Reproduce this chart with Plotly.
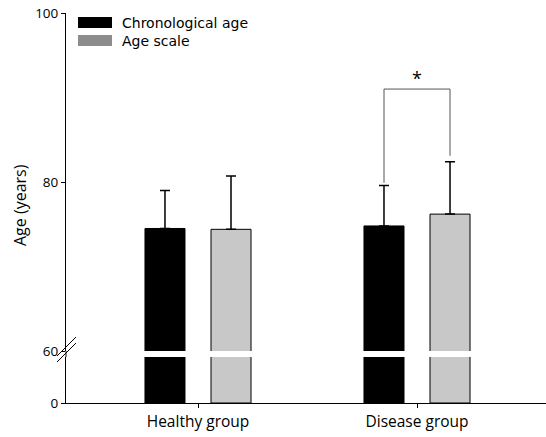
import plotly.graph_objects as go

groups = ["Healthy group", "Disease group"]
chrono_mean = [74.5, 74.8]
chrono_sd = [4.5, 4.8]
agescale_mean = [74.4, 76.2]
agescale_sd = [6.3, 6.2]
series_names = ["Chronological age", "Age scale"]
bar_colors = ["#000000", "#c8c8c8"]
legend_colors = ["#000000", "#8c8c8c"]
upper_ticks = [60, 80, 100]
lower_ticks = [0]
sig_level = 91.0
sig_label = "*"

FONT = "Open Sans"
W, H = 546, 437
ml, mr, mt, mb = 66, 0, 13, 34
ph = H - mt - mb
pw = W - ml - mr

def py(ypix):
    return 1 - (ypix - mt) / ph

def px(xpix):
    return (xpix - ml) / pw

xrange_ = [-0.6027, 1.589]

fig = go.Figure()
means = [chrono_mean, agescale_mean]
sds = [chrono_sd, agescale_sd]
for i in range(2):
    fig.add_trace(go.Bar(
        x=groups, y=means[i], name=series_names[i],
        marker=dict(color=bar_colors[i], line=dict(color="#000000", width=1)),
        error_y=dict(type="data", symmetric=False, array=sds[i],
                     arrayminus=[0] * len(groups), color="#000000",
                     thickness=1.5, width=5),
        xaxis="x", yaxis="y", showlegend=False,
    ))
for i in range(2):
    fig.add_trace(go.Bar(
        x=groups, y=means[i], name=series_names[i],
        marker=dict(color=bar_colors[i], line=dict(color="#000000", width=1)),
        xaxis="x2", yaxis="y2", showlegend=False,
    ))

axis_common = dict(showline=True, linecolor="#000000", linewidth=1,
                   ticks="outside", ticklen=4, tickcolor="#000000",
                   showgrid=False, zeroline=False,
                   tickfont=dict(family=FONT, size=13.5, color="#000000"))

upper_bottom = py(351)
lower_top = py(357)

fig.update_layout(
    width=W, height=H,
    margin=dict(l=ml, r=mr, t=mt, b=mb),
    paper_bgcolor="white", plot_bgcolor="white",
    barmode="group", bargap=0.397, bargroupgap=0.394,
    showlegend=False,
    xaxis=dict(domain=[0, 1], anchor="y", range=xrange_, visible=False,
               type="category"),
    xaxis2=dict(domain=[0, 1], anchor="y2", range=xrange_, type="category",
                matches="x", showline=True, linecolor="#000000", linewidth=1,
                ticks="outside", ticklen=4, tickcolor="#000000",
                showgrid=False, zeroline=False,
                tickfont=dict(family=FONT, size=15.5, color="#000000")),
    yaxis=dict(domain=[upper_bottom, 1], anchor="x", range=[60, 100],
               tickvals=upper_ticks, **axis_common),
    yaxis2=dict(domain=[0, lower_top], anchor="x2", range=[0, 50],
                tickvals=lower_ticks, **axis_common),
)

shapes = []
# connect axis line across the break
shapes.append(dict(type="line", xref="paper", yref="paper", x0=0, x1=0,
                   y0=lower_top, y1=upper_bottom,
                   line=dict(color="#000000", width=1)))
# break marks
for dy in (0, 6):
    shapes.append(dict(type="line", xref="paper", yref="paper",
                       x0=px(57), x1=px(76), y0=py(362 + dy - 6), y1=py(343 + dy - 6),
                       line=dict(color="#000000", width=1)))
# significance bracket (Disease group)
off = 0.1507
gi = 1
left_x = gi - off
right_x = gi + off
left_bottom = chrono_mean[gi] + chrono_sd[gi] + 0.3
right_bottom = agescale_mean[gi] + agescale_sd[gi] + 0.7
br = dict(color="#555555", width=1)
shapes.append(dict(type="line", xref="x", yref="y", x0=left_x, x1=left_x,
                   y0=left_bottom, y1=sig_level, line=br))
shapes.append(dict(type="line", xref="x", yref="y", x0=right_x, x1=right_x,
                   y0=right_bottom, y1=sig_level, line=br))
shapes.append(dict(type="line", xref="x", yref="y", x0=left_x, x1=right_x,
                   y0=sig_level, y1=sig_level, line=br))
# legend swatches
sw = [(17, 28), (35, 46)]
for i in range(2):
    shapes.append(dict(type="rect", xref="paper", yref="paper",
                       x0=px(78), x1=px(112), y0=py(sw[i][1]), y1=py(sw[i][0]),
                       fillcolor=legend_colors[i], line=dict(width=0)))
fig.update_layout(shapes=shapes)

ann = []
ann.append(dict(x=gi, y=sig_level, xref="x", yref="y", text=sig_label,
                showarrow=False, yanchor="bottom", yshift=-3,
                font=dict(family=FONT, size=18, color="#000000")))
# legend text block (two lines)
ann.append(dict(x=px(120), y=py((sw[0][0] + sw[1][1]) / 2), xref="paper",
                yref="paper", text="<br>".join(series_names), showarrow=False,
                xanchor="left", yanchor="middle", align="left",
                font=dict(family="DejaVu Sans", size=14, color="#000000")))
ann.append(dict(x=px(20), y=py(205), xref="paper", yref="paper",
                text="Age (years)", textangle=-90, showarrow=False,
                xanchor="center", yanchor="middle",
                font=dict(family=FONT, size=16, color="#000000")))
fig.update_layout(annotations=ann)

fig.write_html("out.html", post_script="document.body.style.margin='0';",
               config={"displayModeBar": False})
